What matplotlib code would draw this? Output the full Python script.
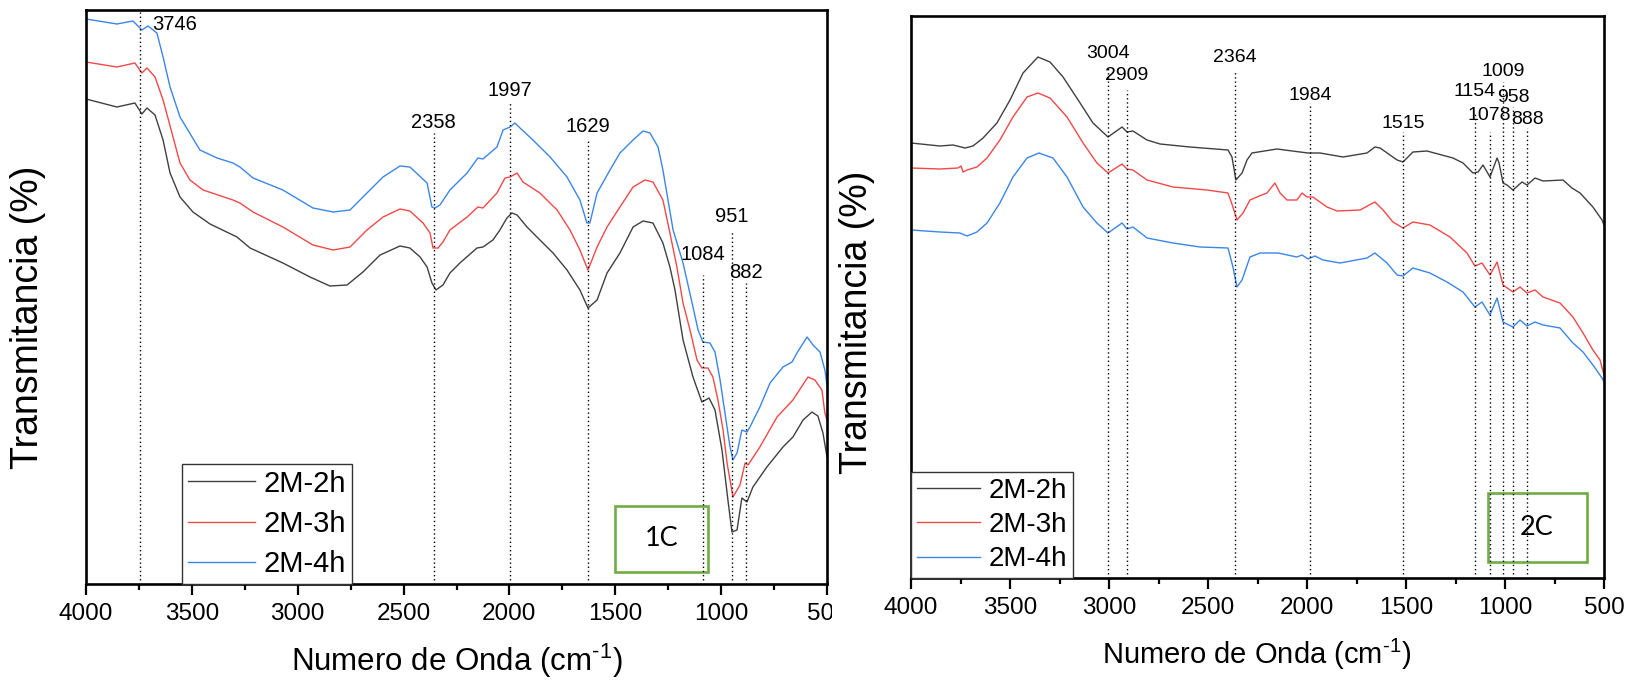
import matplotlib
matplotlib.use('Agg')
import matplotlib.pyplot as plt
from matplotlib.patches import Rectangle
from matplotlib.transforms import Bbox, TransformedBbox, IdentityTransform

plt.rcParams['font.family'] = ['Liberation Sans', 'DejaVu Sans']
plt.rcParams['mathtext.fontset'] = 'custom'
plt.rcParams['mathtext.rm'] = 'Liberation Sans'

# ---- espectros 1C ----
onda_1c_2h = [4000, 3854, 3769, 3736, 3712, 3674, 3636, 3603, 3556, 3495, 3414, 3287, 3225, 3070, 2942,
              2848, 2767, 2692, 2611, 2517, 2470, 2422, 2389, 2366, 2347, 2314, 2281, 2234, 2153, 2125,
              2078, 2045, 2012, 1988, 1964, 1917, 1856, 1794, 1728, 1667, 1629, 1586, 1539, 1478, 1416,
              1369, 1322, 1275, 1242, 1218, 1180, 1133, 1091, 1057, 1029, 996, 968, 949, 925, 902,
              878, 850, 784, 708, 661, 613, 571, 543, 519, 500]
trans_1c_2h = [485, 477, 481, 470, 476, 469, 444, 411, 387, 372, 360, 347, 336, 321, 307,
               298, 299, 312, 329, 338, 336, 327, 317, 301, 294, 299, 311, 321, 336, 337,
               344, 354, 366, 371, 369, 357, 344, 331, 314, 294, 276, 284, 311, 331, 357,
               363, 361, 341, 317, 294, 244, 207, 182, 186, 174, 134, 84, 52, 54, 86,
               82, 97, 117, 137, 147, 164, 172, 168, 151, 127]

onda_1c_3h = [4000, 3854, 3769, 3736, 3712, 3674, 3636, 3594, 3556, 3509, 3447, 3306, 3273, 3211, 3070,
              2928, 2833, 2753, 2673, 2597, 2517, 2470, 2408, 2375, 2361, 2337, 2314, 2281, 2200, 2149,
              2125, 2059, 2021, 1997, 1964, 1936, 1856, 1775, 1714, 1667, 1629, 1586, 1539, 1478, 1416,
              1360, 1322, 1275, 1242, 1209, 1180, 1147, 1114, 1091, 1062, 1039, 1015, 991, 972, 944,
              911, 887, 873, 817, 736, 661, 590, 557, 524, 510, 500]
trans_1c_3h = [522, 517, 521, 511, 516, 507, 484, 451, 421, 404, 394, 384, 381, 372, 357,
               339, 334, 337, 354, 367, 375, 373, 361, 351, 336, 336, 342, 354, 367, 377,
               376, 391, 406, 407, 411, 402, 391, 374, 354, 334, 314, 337, 357, 377, 397,
               404, 402, 384, 351, 317, 281, 254, 224, 216, 216, 207, 184, 154, 121, 87,
               99, 121, 119, 137, 167, 184, 207, 204, 194, 171, 164]

onda_1c_4h = [4000, 3854, 3778, 3736, 3707, 3665, 3636, 3603, 3556, 3462, 3381, 3306, 3273, 3211, 3070,
              2928, 2833, 2753, 2673, 2597, 2517, 2470, 2389, 2366, 2352, 2328, 2281, 2200, 2149, 2125,
              2059, 2030, 1997, 1974, 1950, 1889, 1808, 1728, 1667, 1634, 1620, 1586, 1525, 1478, 1416,
              1369, 1336, 1298, 1275, 1227, 1180, 1133, 1109, 1086, 1053, 1029, 1005, 982, 958, 944,
              925, 902, 878, 864, 817, 769, 708, 665, 642, 594, 566, 533, 510, 500]
trans_1c_4h = [565, 560, 563, 554, 558, 551, 527, 497, 467, 434, 426, 421, 417, 406, 394,
               376, 372, 374, 391, 407, 418, 417, 401, 377, 376, 379, 394, 411, 426, 425,
               437, 454, 457, 461, 456, 444, 427, 407, 384, 361, 361, 391, 414, 431, 444,
               453, 451, 437, 414, 354, 321, 277, 254, 242, 241, 232, 204, 171, 137, 124,
               131, 154, 152, 157, 177, 201, 217, 222, 231, 247, 239, 232, 214, 199]

# ---- espectros 2C ----
onda_2c_2h = [4000, 3854, 3788, 3727, 3687, 3636, 3566, 3500, 3434, 3359, 3298, 3232, 3146, 3081, 3005,
              2934, 2909, 2879, 2808, 2742, 2591, 2399, 2379, 2359, 2328, 2303, 2278, 2152, 2035, 1995,
              1934, 1818, 1697, 1657, 1631, 1545, 1515, 1465, 1394, 1263, 1212, 1162, 1136, 1111, 1076,
              1040, 1030, 1010, 990, 960, 914, 889, 848, 808, 707, 662, 621, 556, 510, 500]
trans_2c_2h = [435, 432, 433, 430, 432, 440, 455, 478, 505, 521, 516, 501, 475, 455, 441,
               451, 446, 447, 438, 434, 431, 428, 421, 398, 405, 418, 425, 429, 426, 425,
               425, 421, 425, 431, 430, 418, 416, 426, 427, 420, 415, 405, 406, 413, 401,
               420, 415, 395, 393, 388, 396, 393, 400, 397, 398, 390, 385, 371, 358, 353]

onda_2c_3h = [4000, 3854, 3763, 3747, 3737, 3717, 3667, 3616, 3551, 3485, 3414, 3359, 3298, 3212, 3131,
              3061, 3005, 2934, 2909, 2879, 2808, 2677, 2505, 2399, 2374, 2354, 2323, 2288, 2253, 2202,
              2162, 2136, 2101, 2051, 2025, 2000, 1970, 1899, 1848, 1732, 1657, 1616, 1566, 1515, 1465,
              1379, 1278, 1192, 1152, 1116, 1076, 1040, 1010, 960, 924, 889, 848, 808, 722, 657,
              606, 556, 520, 500]
trans_2c_3h = [410, 409, 410, 412, 406, 408, 411, 420, 438, 461, 481, 485, 480, 461, 435,
               415, 405, 414, 409, 408, 398, 391, 388, 385, 371, 358, 365, 378, 381, 385,
               395, 385, 378, 378, 385, 381, 381, 371, 367, 368, 376, 368, 356, 350, 356,
               353, 341, 325, 312, 315, 303, 316, 293, 286, 291, 285, 288, 281, 275, 261,
               245, 228, 218, 203]

onda_2c_4h = [4000, 3854, 3753, 3717, 3667, 3616, 3551, 3485, 3414, 3354, 3283, 3212, 3131, 3061, 3005,
              2934, 2909, 2879, 2808, 2677, 2540, 2399, 2374, 2354, 2328, 2288, 2237, 2146, 2051, 2025,
              1995, 1960, 1919, 1833, 1697, 1657, 1596, 1545, 1515, 1465, 1379, 1293, 1212, 1152, 1116,
              1076, 1040, 1010, 960, 924, 889, 848, 808, 722, 657, 606, 556, 510, 500]
trans_2c_4h = [348, 346, 345, 342, 346, 355, 375, 401, 420, 425, 420, 401, 371, 355, 345,
               355, 349, 351, 340, 335, 331, 330, 311, 291, 298, 321, 325, 325, 321, 323,
               319, 322, 318, 315, 320, 325, 315, 303, 302, 310, 305, 296, 286, 271, 276,
               263, 280, 256, 251, 258, 252, 256, 253, 250, 235, 226, 213, 200, 196]

series = ['2M-2h', '2M-3h', '2M-4h']
colores = ['#404040', '#f24848', '#3a86e8']

# bandas marcadas: valor, alto de la linea, alto del texto
bandas_1c = [3746, 2358, 1997, 1629, 1084, 951, 882]
tope_1c = [572, 451, 481, 444, 309, 352, 301]
texto_1c = [560, 461, 493, 457, 329, 367, 311]

bandas_2c = [3004, 2909, 2364, 1984, 1515, 1154, 1078, 1009, 958, 888]
tope_2c = [511, 488, 506, 475, 446, 465, 446, 496, 471, 450]
texto_2c = [525, 503, 520, 482, 455, 487, 462, 506, 481, 458]

fig = plt.figure(figsize=(16.28, 6.81), dpi=100)
ax1 = fig.add_axes([86 / 1628, 1 - 584 / 681, 741 / 1628, 574 / 681])
ax2 = fig.add_axes([911 / 1628, 1 - 578 / 681, 693 / 1628, 562 / 681])


def marco(ax, ymax):
    ax.set_xlim(4000, 500)
    ax.set_ylim(0, ymax)
    ax.set_xticks([4000, 3500, 3000, 2500, 2000, 1500, 1000, 500])
    ax.set_xticks([3750, 3250, 2750, 2250, 2000 - 250, 1250, 750], minor=True)
    ax.set_yticks([])
    ax.tick_params(axis='x', which='major', direction='out', length=8, width=1.6,
                   labelsize=17.5, pad=6)
    ax.tick_params(axis='x', which='minor', direction='out', length=4, width=1.6)
    for s in ax.spines.values():
        s.set_linewidth(1.9)


def espectro(ax, ondas, valores, tam_leyenda, ancla, espacio):
    lineas = []
    for onda, trans, nom, col in zip(ondas, valores, series, colores):
        l, = ax.plot(onda, trans, color=col, lw=1.0, label=nom)
        lineas.append(l)
    leg = ax.legend(handles=lineas, loc='lower left', bbox_to_anchor=(ancla, 0.0),
                    borderaxespad=0, fontsize=tam_leyenda, handlelength=2.3, handletextpad=0.3,
                    labelspacing=espacio, borderpad=0.2, fancybox=False, framealpha=1)
    leg.get_frame().set_edgecolor('#333333')
    leg.get_frame().set_linewidth(1.0)


# panel 1C
marco(ax1, 574)
espectro(ax1, [onda_1c_2h, onda_1c_3h, onda_1c_4h], [trans_1c_2h, trans_1c_3h, trans_1c_4h],
         21, 0.1296, 0.42)
for b, t, y in zip(bandas_1c, tope_1c, texto_1c):
    ax1.plot([b, b], [4, t], color='black', lw=1.0, linestyle=(0, (1, 2)))
    if b == 3746:
        ax1.text(b - 58, y, str(b), fontsize=14.5, ha='left', va='center')
    else:
        ax1.text(b, y, str(b), fontsize=14.5, ha='center', va='center')
ax1.add_patch(Rectangle((0.714, 0.021), 0.1255, 0.115, transform=ax1.transAxes,
                        fill=False, edgecolor='#70ad47', lw=1.9))
ax1.text(0.777, 0.080, '1C', transform=ax1.transAxes, fontsize=19.5, family='Lato',
         ha='center', va='center')

# panel 2C
marco(ax2, 562)
espectro(ax2, [onda_2c_2h, onda_2c_3h, onda_2c_4h], [trans_2c_2h, trans_2c_3h, trans_2c_4h],
         20, 0.0, 0.3)
for b, t, y in zip(bandas_2c, tope_2c, texto_2c):
    ax2.plot([b, b], [4, t], color='black', lw=1.0, linestyle=(0, (1, 2)))
    ax2.text(b, y, str(b), fontsize=14, ha='center', va='center')
ax2.add_patch(Rectangle((0.8326, 0.0285), 0.1429, 0.1228, transform=ax2.transAxes,
                        fill=False, edgecolor='#70ad47', lw=1.9))
ax2.text(0.9033, 0.090, '2C', transform=ax2.transAxes, fontsize=19.5, family='Lato',
         ha='center', va='center')

# titulos de ejes
etiqueta_x = 'Numero de Onda (cm$^{\\mathregular{\u2010}1}$)'
fig.text(457 / 1628, 1 - 661 / 681, etiqueta_x, fontsize=22.5, ha='center', va='center')
fig.text(1257 / 1628, 1 - 654 / 681, etiqueta_x, fontsize=21, ha='center', va='center')
fig.text(28 / 1628, 1 - 317 / 681, 'Transmitancia (%)', fontsize=27, rotation=90,
         ha='center', va='center')
fig.text(857 / 1628, 1 - 322 / 681, 'Transmitancia (%)', fontsize=27, rotation=90,
         ha='center', va='center')

# el panel izquierdo termina recortado justo despues del eje
recorte = TransformedBbox(Bbox([[0, 0], [832, 681]]), IdentityTransform())
for et in ax1.get_xticklabels():
    et.set_clip_on(True)
    et.set_clip_box(recorte)

fig.savefig('out.png', dpi=100)
